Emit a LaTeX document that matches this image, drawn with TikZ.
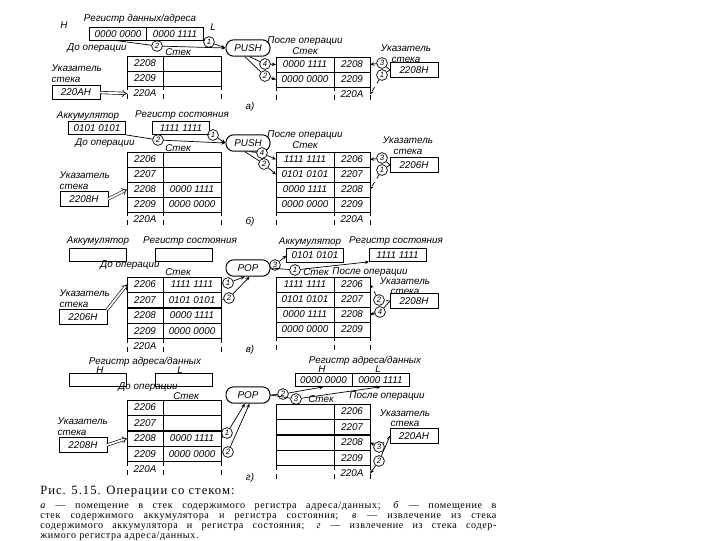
\documentclass[tikz,border=0pt]{standalone}
\usepackage{fontspec}
\setmainfont{Liberation Sans}
\newfontfamily\capfont{Liberation Serif}[LetterSpace=8]
\newfontfamily\capbody{Liberation Serif}[LetterSpace=6]
\usepackage{tikz}
\usetikzlibrary{arrows.meta,positioning}
\tikzset{
  lbl/.style={font=\fontsize{7}{7.6}\selectfont\itshape,inner sep=1pt,align=center},
  regbox/.style={rectangle,draw,line width=0.7pt,minimum width=14.25mm,
    minimum height=3.4mm,inner sep=0pt,outer sep=0pt,font=\fontsize{7}{8}\selectfont\itshape},
  acell/.style={rectangle,draw,line width=0.6pt,minimum width=9mm,minimum height=3.75mm,
    inner sep=0pt,outer sep=0pt,font=\fontsize{7}{8}\selectfont\itshape},
  dcell/.style={acell,minimum width=14.5mm},
  ptrbox/.style={regbox,minimum width=12mm,minimum height=3.6mm},
  opbox/.style={rectangle,rounded corners=1.9mm,draw,line width=0.7pt,minimum width=11mm,
    minimum height=3.8mm,font=\fontsize{7}{8}\selectfont\itshape},
  num/.style={circle,draw,line width=0.5pt,fill=white,inner sep=0pt,minimum size=2.7mm,
    font=\fontsize{5.5}{6}\selectfont\itshape},
  arr/.style={-{Stealth[length=3pt,width=2.5pt]},line width=0.5pt},
  darr/.style={dashed,-{Stealth[length=3pt,width=2.5pt]},line width=0.5pt},
  hol/.style={double,double distance=1.3pt,line width=0.45pt,-{Implies}},
  tail/.style={dashed,line width=0.6pt},
}
\begin{document}
\begin{tikzpicture}[x=0.025cm,y=-0.025cm]
\useasboundingbox (0,0) rectangle (720,540);

% ---------- а) PUSH регистра адреса/данных
\node[lbl] (aRegT) at (140,19) {Регистр данных/адреса};
\node[lbl] (aH) at (64,25) {H};
\node[lbl] (aL) at (213,27) {L};
\node[regbox] (aRH) at (118,34) {0000 0000};
\node[regbox,right=0pt of aRH] (aRL) {0000 1111};
\node[lbl] (aBef) at (97,48) {До операции};
\node[lbl] (aSt) at (178,52) {Стек};
\node[opbox] (aOp) at (248,48) {PUSH};
\node[num] (aC2) at (157,46) {2};
\node[num] (aC1) at (209,42) {1};
\draw[arr] (aRH.south) -- (aC2) -- (aOp.west);
\draw[arr] (aRL.south east) -- (aC1) -- (aOp.west);
\foreach \ad [count=\i] in {2208,2209}{
  \node[acell] (aLa\i) at (145,{63.5+15*(\i-1)}) {\ad};
  \node[dcell,right=0pt of aLa\i] (aLd\i) {};
}
\node[acell,draw=none] (aLa3) at (145,93.5) {220A};
\node[dcell,draw=none,right=0pt of aLa3] (aLd3) {};
\draw[tail] (aLa3.north west) -- (aLa3.south west) (aLa3.north east) -- (aLa3.south east)
  (aLd3.north east) -- (aLd3.south east);
\node[lbl,align=left,anchor=south west] (aPT) at (50,84) {Указатель\\стека};
\node[ptrbox] (aP) at (76,92.5) {220AH};
\draw[hol] (aP.east) -- (aLa3.west);
% после операции
\node[lbl] (aAft) at (305,46) {После операции\\Стек};
\foreach \dt/\ad [count=\i] in {0000 1111/2208,0000 0000/2209}{
  \node[dcell] (aRd\i) at (305,{64.5+15*(\i-1)}) {\dt};
  \node[acell,right=0pt of aRd\i] (aRa\i) {\ad};
}
\node[dcell,draw=none] (aRd3) at (305,94.5) {};
\node[acell,draw=none,right=0pt of aRd3] (aRa3) {220A};
\draw[tail] (aRd3.north west) -- (aRd3.south west) (aRd3.north east) -- (aRd3.south east)
  (aRa3.north east) -- (aRa3.south east);
\node[num] (aC4) at (265,64) {4};
\node[num] (aC2b) at (265,76) {2};
\draw[arr] (aOp.-80) -- (aC4) -- (aRd1.west);
\draw[arr] (aOp.-110) -- (aC2b) -- (aRd2.west);
\node[lbl] (aPT2) at (406,54) {Указатель\\стека};
\node[ptrbox] (aP2) at (414,70) {2208H};
\node[num] (aC3) at (382,63) {3};
\node[num] (aC1b) at (382,75) {1};
\draw[arr] (aP2.west) -- (aC3) -- (aRa1.east);
\draw[darr] (aP2.west) -- (aC1b) -- (aRa3.east);
\node[lbl] (aCap) at (250,107) {а)};

% ---------- б) PUSH аккумулятора и регистра состояния
\node[lbl] (bAccT) at (88,116) {Аккумулятор};
\node[regbox] (bAcc) at (97,128) {0101 0101};
\node[lbl] (bStT) at (182,115) {Регистр состояния};
\node[regbox] (bSt) at (181,128) {1111 1111};
\node[lbl] (bBef) at (105,143) {До операции};
\node[lbl] (bSk) at (178,148) {Стек};
\node[opbox] (bOp) at (248,143) {PUSH};
\node[num] (bC2) at (158,140) {2};
\node[num] (bC1) at (213,135) {1};
\draw[arr] (bAcc.south east) -- (bC2) -- (bOp.west);
\draw[arr] (bSt.south east) -- (bC1) -- (bOp.west);
\foreach \ad/\dt [count=\i] in {2206/,2207/,2208/0000 1111,2209/0000 0000}{
  \node[acell] (bLa\i) at (145,{159.5+15*(\i-1)}) {\ad};
  \node[dcell,right=0pt of bLa\i] (bLd\i) {\dt};
}
\node[acell,draw=none] (bLa5) at (145,219.5) {220A};
\node[dcell,draw=none,right=0pt of bLa5] (bLd5) {};
\draw[tail] (bLa5.north west) -- (bLa5.south west) (bLa5.north east) -- (bLa5.south east)
  (bLd5.north east) -- (bLd5.south east);
\node[lbl,align=left,anchor=south west] (bPT) at (58,191) {Указатель\\стека};
\node[ptrbox] (bP) at (84,199) {2208H};
\draw[hol] (bP.east) -- (bLa3.west);
% после операции
\node[lbl] (bAft) at (305,140) {После операции\\Стек};
\foreach \dt/\ad [count=\i] in {1111 1111/2206,0101 0101/2207,0000 1111/2208,0000 0000/2209}{
  \node[dcell] (bRd\i) at (305,{159.5+15*(\i-1)}) {\dt};
  \node[acell,right=0pt of bRd\i] (bRa\i) {\ad};
}
\node[dcell,draw=none] (bRd5) at (305,219.5) {};
\node[acell,draw=none,right=0pt of bRd5] (bRa5) {220A};
\draw[tail] (bRd5.north west) -- (bRd5.south west) (bRd5.north east) -- (bRd5.south east)
  (bRa5.north east) -- (bRa5.south east);
\node[num] (bC4) at (262,153) {4};
\node[num] (bC2b) at (264,164) {2};
\draw[arr] (bOp.-80) -- (bC4) -- (bRd1.west);
\draw[arr] (bOp.-110) -- (bC2b) -- (bRd2.west);
\node[lbl] (bPT2) at (408,146) {Указатель\\стека};
\node[ptrbox] (bP2) at (414,165) {2206H};
\node[num] (bC3) at (382,158) {3};
\node[num] (bC1b) at (382,170) {1};
\draw[arr] (bP2.west) -- (bC3) -- (bRa1.east);
\draw[darr] (bP2.west) -- (bC1b) -- (bRa3.east);
\node[lbl] (bCap) at (250,222) {б)};

% ---------- в) POP аккумулятора и регистра состояния
\node[lbl] (cAccT) at (98,241) {Аккумулятор};
\node[regbox] (cAcc) at (97.5,255) {};
\node[lbl] (cStT) at (190,241) {Регистр состояния};
\node[regbox] (cSt) at (183.5,255) {};
\node[lbl] (cBef) at (130,265) {До операции};
\node[lbl] (cSk) at (178,272) {Стек};
\node[opbox] (cOp) at (248,268) {POP};
\foreach \ad/\dt [count=\i] in {2206/1111 1111,2207/0101 0101,2208/0000 1111,2209/0000 0000}{
  \node[acell] (cLa\i) at (145,{284.5+15.5*(\i-1)}) {\ad};
  \node[dcell,right=0pt of cLa\i] (cLd\i) {\dt};
}
\node[acell,draw=none] (cLa5) at (145,346.5) {220A};
\node[dcell,draw=none,right=0pt of cLa5] (cLd5) {};
\draw[tail] (cLa5.north west) -- (cLa5.south west) (cLa5.north east) -- (cLa5.south east)
  (cLd5.north east) -- (cLd5.south east);
\node[num] (cC1) at (228,283) {1};
\node[num] (cC2) at (229,298) {2};
\draw[arr] (cLd1.east) -- (cC1) -- (cOp.-110);
\draw[arr] (cLd2.east) -- (cC2) -- (cOp.-80);
\node[lbl,align=left,anchor=south west] (cPT) at (58,309) {Указатель\\стека};
\node[ptrbox] (cP) at (83,317) {2206H};
\draw[hol] (cP.north east) -- (cLa1.west);
% после операции
\node[lbl] (cAccT2) at (310,242) {Аккумулятор};
\node[regbox] (cAcc2) at (315,255.5) {0101 0101};
\node[lbl] (cStT2) at (396,241) {Регистр состояния};
\node[regbox] (cSt2) at (397.5,255) {1111 1111};
\node[num] (cC3) at (275,265) {3};
\node[num] (cC1b) at (295,270) {1};
\draw[arr] (cOp.east) -- (cC3) -- (cAcc2.west);
\draw[arr] (cOp.east) -- (cC1b) -- (cSt2.south west);
\node[lbl] (cSk2) at (316,272) {Стек};
\node[lbl] (cAft) at (370,272) {После операции};
\foreach \dt/\ad [count=\i] in {1111 1111/2206,0101 0101/2207,0000 1111/2208,0000 0000/2209}{
  \node[dcell] (cRd\i) at (305,{284.5+15*(\i-1)}) {\dt};
  \node[acell,right=0pt of cRd\i] (cRa\i) {\ad};
}
\node[dcell,draw=none] (cRd5) at (305,344.5) {};
\node[acell,draw=none,right=0pt of cRd5] (cRa5) {};
\draw[tail] (cRd5.north west) -- (cRd5.south west) (cRd5.north east) -- (cRd5.south east)
  (cRa5.north east) -- (cRa5.south east);
\node[lbl] (cPT2) at (405,286) {Указатель\\стека};
\node[ptrbox] (cP2) at (414,301) {2208H};
\node[num] (cC2b) at (379,300) {2};
\node[num] (cC4) at (380,312) {4};
\draw[darr] (cP2.west) -- (cC2b) -- (cRa1.east);
\draw[arr] (cP2.west) -- (cC4) -- (cRa3.east);
\node[lbl] (cCap) at (250,350) {в)};

% ---------- г) POP регистра адреса/данных
\node[lbl] (dRegT) at (145,362) {Регистр адреса/данных};
\node[lbl] (dH) at (100,370) {H};
\node[lbl] (dL) at (180,370) {L};
\node[regbox] (dRH) at (97.5,380) {};
\node[regbox] (dRL) at (183.5,380) {};
\node[lbl] (dBef) at (148,387) {До операции};
\node[lbl] (dSk) at (186,396) {Стек};
\node[opbox] (dOp) at (248,395) {POP};
\foreach \ad/\dt [count=\i] in {2206/,2207/,2208/0000 1111,2209/0000 0000}{
  \node[acell] (dLa\i) at (145,{407.5+15.5*(\i-1)}) {\ad};
  \node[dcell,right=0pt of dLa\i] (dLd\i) {\dt};
}
\node[acell,draw=none] (dLa5) at (145,469.5) {220A};
\node[dcell,draw=none,right=0pt of dLa5] (dLd5) {};
\draw[tail] (dLa5.north west) -- (dLa5.south west) (dLa5.north east) -- (dLa5.south east)
  (dLd5.north east) -- (dLd5.south east);
\node[num] (dC1) at (227,433) {1};
\node[num] (dC2) at (228,452) {2};
\draw[arr] (dLd3.east) -- (dC1) -- (dOp.-110);
\draw[arr] (dLd4.east) -- (dC2) -- (dOp.-80);
\node[lbl,align=left,anchor=south west] (dPT) at (56,437) {Указатель\\стека};
\node[ptrbox] (dP) at (83,445) {2208H};
\draw[hol] (dP.east) -- (dLa3.west);
% после операции
\node[lbl] (dRegT2) at (365,361) {Регистр адреса/данных};
\node[lbl] (dH2) at (322,369) {H};
\node[lbl] (dL2) at (378,369) {L};
\node[regbox] (dRH2) at (323.5,380) {0000 0000};
\node[regbox,right=0pt of dRH2] (dRL2) {0000 1111};
\node[num] (dC2b) at (283,394) {2};
\node[num] (dC3) at (296,399) {3};
\draw[arr] (dOp.east) -- (dC2b) -- (dRH2.south);
\draw[arr] (dOp.east) -- (dC3) -- (dRL2.south);
\node[lbl] (dSk2) at (321,399) {Стек};
\node[lbl] (dAft) at (387,396) {После операции};
\foreach \ad [count=\i] in {2206,2207,2208,2209}{
  \node[dcell] (dRd\i) at (305,{411.5+15.5*(\i-1)}) {};
  \node[acell,right=0pt of dRd\i] (dRa\i) {\ad};
}
\node[dcell,draw=none] (dRd5) at (305,473.5) {};
\node[acell,draw=none,right=0pt of dRd5] (dRa5) {220A};
\draw[tail] (dRd5.north west) -- (dRd5.south west) (dRd5.north east) -- (dRd5.south east)
  (dRa5.north east) -- (dRa5.south east);
\node[lbl] (dPT2) at (405,418) {Указатель\\стека};
\node[ptrbox] (dP2) at (414,436) {220AH};
\node[num] (dC3b) at (379,447) {3};
\node[num] (dC2c) at (379,461) {2};
\draw[darr] (dP2.west) -- (dC3b) -- (dRa3.east);
\draw[arr] (dP2.west) -- (dC2c) -- (dRa5.east);
\node[lbl] (dCap) at (250,478) {г)};

% ---------- подпись
\node[anchor=west,inner sep=0pt,font=\capfont\fontsize{9}{10}\selectfont] (capT) at (40,492)
  {Рис. 5.15. Операции со стеком:};
\node[anchor=north west,inner sep=0pt,text width=11.4cm,align=justify,
  font=\capbody\fontsize{7.2}{7.1}\selectfont] (capB) at (40,501)
  {\textit{а} — помещение в стек содержимого регистра адреса/данных; \textit{б} — помещение в\linebreak
  стек содержимого аккумулятора и регистра состояния; \textit{в} — извлечение из стека\linebreak
  содержимого аккумулятора и регистра состояния; \textit{г} — извлечение из стека содер-\linebreak
  жимого регистра адреса/данных.};
\end{tikzpicture}
\end{document}
